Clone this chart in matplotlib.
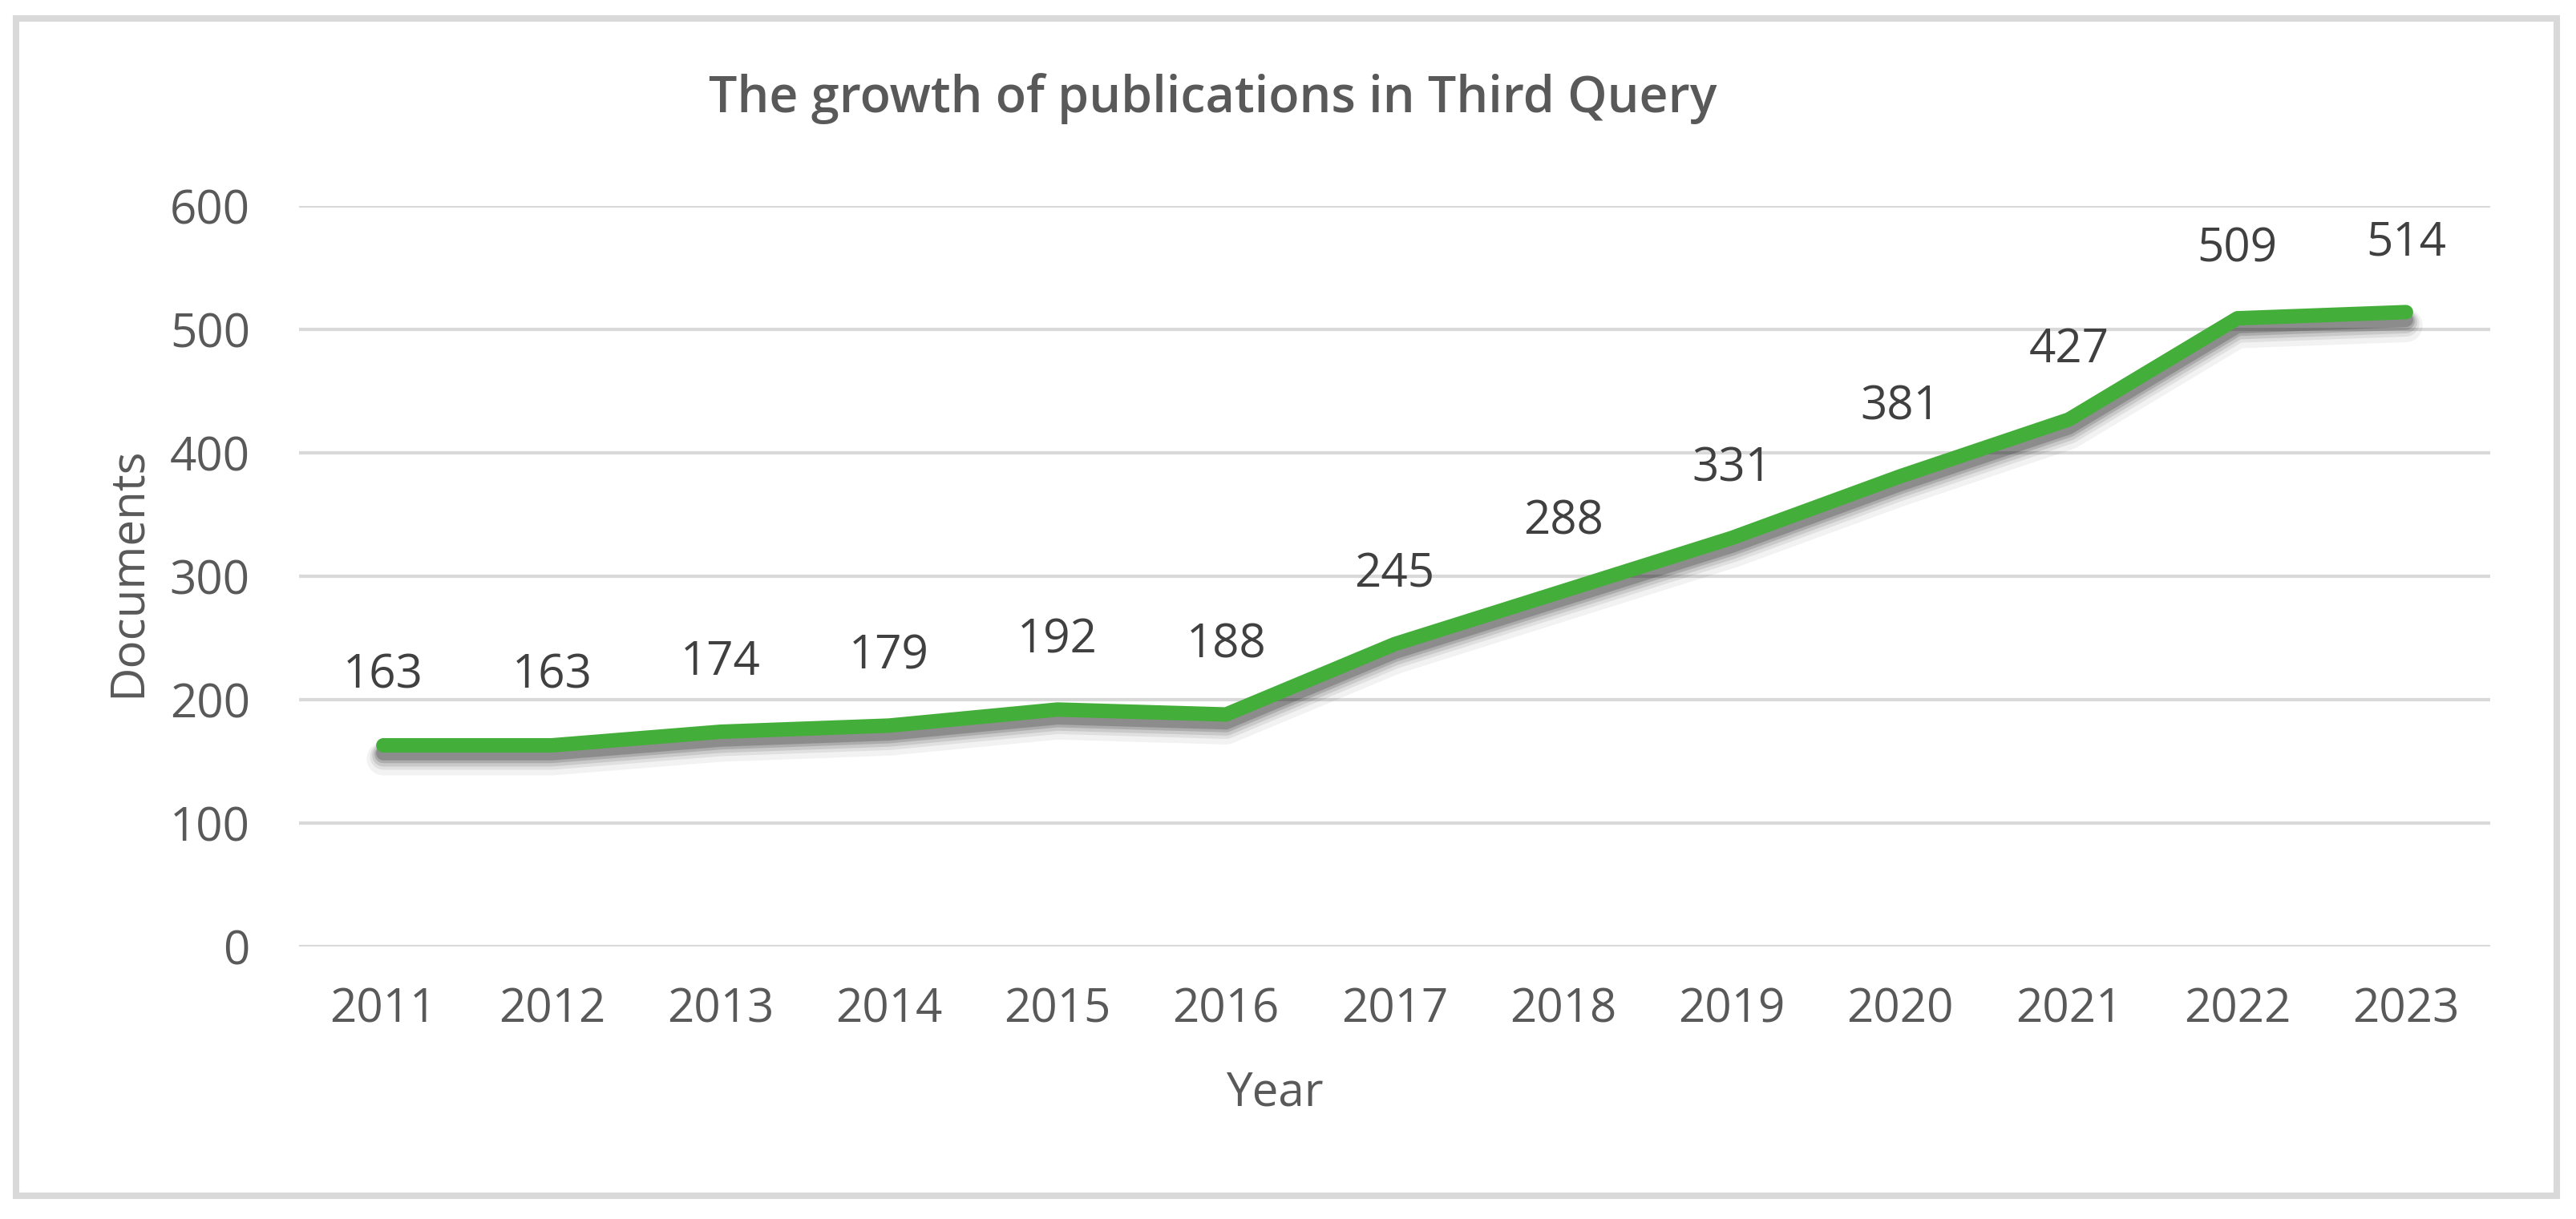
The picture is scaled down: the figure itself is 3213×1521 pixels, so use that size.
import matplotlib
matplotlib.use("Agg")
import matplotlib.pyplot as plt
import matplotlib.patheffects as pe
from matplotlib.patches import Rectangle

years = ["2011", "2012", "2013", "2014", "2015", "2016", "2017",
         "2018", "2019", "2020", "2021", "2022", "2023"]
documents = [163, 163, 174, 179, 192, 188, 245, 288, 331, 381, 427, 509, 514]
y_ticks = [0, 100, 200, 300, 400, 500, 600]
title = "The growth of publications in Third Query"
x_label = "Year"
y_label = "Documents"

W, H, DPI = 3213, 1521, 200
plt.rcParams['font.family'] = ['Open Sans', 'DejaVu Sans']

fig = plt.figure(figsize=(W / DPI, H / DPI), dpi=DPI)
fig.patch.set_facecolor("white")

def fx(px):
    return px / W

def fy(py):
    return 1 - py / H

# outer border
fig.patches.append(Rectangle((fx(20), fy(1492)), fx(3189) - fx(20), fy(23) - fy(1492),
                             transform=fig.transFigure, fill=False,
                             edgecolor="#D9D9D9", linewidth=2.9, zorder=0))

left, right, top, bottom = 373, 3106, 257, 1181
ax = fig.add_axes([fx(left), fy(bottom), fx(right) - fx(left), fy(top) - fy(bottom)])
ax.set_facecolor("none")

x = list(range(len(years)))
green = "#44AE3A"
shadow = [
    pe.SimpleLineShadow(offset=(0, -6), shadow_color="k", alpha=0.05, linewidth=15),
    pe.SimpleLineShadow(offset=(0, -5), shadow_color="k", alpha=0.07, linewidth=12),
    pe.SimpleLineShadow(offset=(0, -4.5), shadow_color="k", alpha=0.10, linewidth=10),
    pe.SimpleLineShadow(offset=(0, -4), shadow_color="k", alpha=0.14, linewidth=8),
    pe.SimpleLineShadow(offset=(0, -3.5), shadow_color="k", alpha=0.18, linewidth=6.5),
    pe.Normal(),
]
ax.plot(x, documents, color=green, linewidth=6.5, solid_capstyle="round",
        solid_joinstyle="round", path_effects=shadow, zorder=3)

for xi, v in zip(x, documents):
    ax.annotate(str(v), (xi, v), xytext=(0, 25.6), textcoords="offset points",
                ha="center", va="baseline", fontsize=21, color="#404040", zorder=4)

ax.set_xlim(-0.5, len(years) - 0.5)
ax.set_ylim(0, 600)
ax.set_yticks(y_ticks)
ax.set_xticks(x)
ax.set_xticklabels(years)
ax.tick_params(axis="both", length=0, labelsize=21, labelcolor="#595959")
ax.tick_params(axis="y", pad=22)
ax.tick_params(axis="x", pad=18)
ax.grid(axis="y", color="#D9D9D9", linewidth=1.5, zorder=0)
ax.set_axisbelow(True)
for s in ax.spines.values():
    s.set_visible(False)

fig.text(fx(1513), fy(140), title, ha="center", va="baseline", fontsize=22.6,
         fontweight="semibold", color="#595959")
fig.text(fx(1590), fy(1380), x_label, ha="center", va="baseline", fontsize=21,
         color="#595959")
fig.text(fx(175), fy(714), y_label, ha="center", va="baseline", fontsize=21,
         color="#595959", rotation=90, rotation_mode="anchor")

fig.savefig("out.png", dpi=DPI, facecolor="white")
